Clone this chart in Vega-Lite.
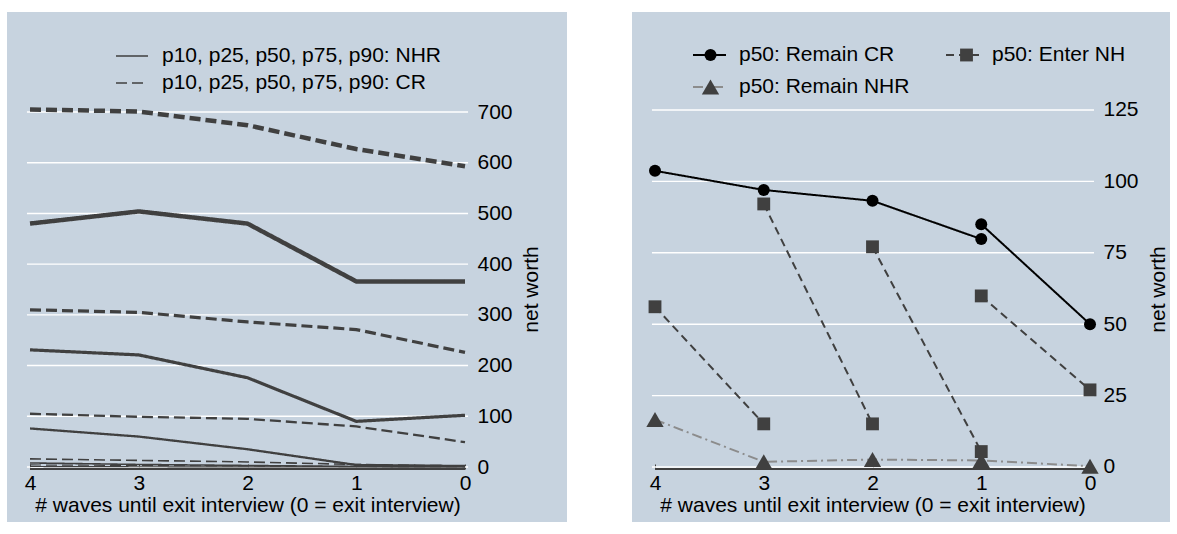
{
  "$schema": "https://vega.github.io/schema/vega-lite/v6.json",
  "padding": {"left": 7, "top": 12, "right": 0, "bottom": 0},
  "background": "#ffffff",
  "spacing": 65,
  "bounds": "flush",
  "resolve": {"scale": {"strokeDash": "independent", "strokeWidth": "independent", "color": "independent", "shape": "independent", "fill": "independent", "size": "independent", "x": "independent", "y": "independent"}},
  "config": {
    "font": "Liberation Sans",
    "view": {"fill": "#c7d3df", "stroke": null},
    "axis": {"labelFont": "Liberation Sans", "titleFont": "Liberation Sans", "labelFontSize": 21, "titleFontSize": 21, "titleFontWeight": "normal", "labelColor": "#000000", "titleColor": "#000000", "grid": false},
    "legend": {"labelFont": "Liberation Sans", "labelFontSize": 21, "labelColor": "#000000", "padding": 0, "labelLimit": 0}
  },
  "hconcat": [
    {
      "width": 560,
      "height": 510,
      "layer": [
        {
          "data": {"values": [{"g": 0}, {"g": 100}, {"g": 200}, {"g": 300}, {"g": 400}, {"g": 500}, {"g": 600}, {"g": 700}]},
          "mark": {"type": "rule", "color": "#ffffff", "strokeWidth": 1.4},
          "encoding": {
            "y": {"field": "g", "type": "quantitative", "scale": {"domain": [-108.45, 897.2], "nice": false, "zero": false},
              "axis": {"orient": "right", "offset": -99, "values": [0, 100, 200, 300, 400, 500, 600, 700], "domain": false, "ticks": false, "labelPadding": 9, "title": "net worth", "titleAngle": 270, "titleX": 63, "titleY": 277, "titleAlign": "center", "titleBaseline": "middle"}},
            "x": {"datum": 4.028, "type": "quantitative", "scale": {"domain": [4.2115, -0.9379], "nice": false, "zero": false},
              "axis": {"orient": "bottom", "offset": -53, "values": [0, 1, 2, 3, 4], "format": "d", "domain": false, "ticks": true, "tickSize": -5, "tickColor": "#404040", "tickWidth": 1, "labelPadding": 8, "labelFlush": false, "title": "# waves until exit interview (0 = exit interview)", "titleX": 240.5, "titlePadding": 1}},
            "x2": {"datum": -0.028}
          }
        },
        {
          "data": {"values": [{"g": 0}]},
          "mark": {"type": "rule", "color": "#404040", "strokeWidth": 2, "yOffset": 2},
          "encoding": {
            "y": {"field": "g", "type": "quantitative"},
            "x": {"datum": 4, "type": "quantitative"},
            "x2": {"datum": 0}
          }
        },
        {
          "data": {"values": [
            {"x": 4, "v": 705, "t": "CR", "p": "p90"}, {"x": 3, "v": 701, "t": "CR", "p": "p90"}, {"x": 2, "v": 674, "t": "CR", "p": "p90"}, {"x": 1, "v": 627, "t": "CR", "p": "p90"}, {"x": 0, "v": 593, "t": "CR", "p": "p90"},
            {"x": 4, "v": 480, "t": "NHR", "p": "p90"}, {"x": 3, "v": 504, "t": "NHR", "p": "p90"}, {"x": 2, "v": 480, "t": "NHR", "p": "p90"}, {"x": 1, "v": 366, "t": "NHR", "p": "p90"}, {"x": 0, "v": 366, "t": "NHR", "p": "p90"},
            {"x": 4, "v": 310, "t": "CR", "p": "p75"}, {"x": 3, "v": 305, "t": "CR", "p": "p75"}, {"x": 2, "v": 286, "t": "CR", "p": "p75"}, {"x": 1, "v": 271, "t": "CR", "p": "p75"}, {"x": 0, "v": 226, "t": "CR", "p": "p75"},
            {"x": 4, "v": 231, "t": "NHR", "p": "p75"}, {"x": 3, "v": 221, "t": "NHR", "p": "p75"}, {"x": 2, "v": 176, "t": "NHR", "p": "p75"}, {"x": 1, "v": 90, "t": "NHR", "p": "p75"}, {"x": 0, "v": 102, "t": "NHR", "p": "p75"},
            {"x": 4, "v": 105, "t": "CR", "p": "p50"}, {"x": 3, "v": 99, "t": "CR", "p": "p50"}, {"x": 2, "v": 95, "t": "CR", "p": "p50"}, {"x": 1, "v": 80, "t": "CR", "p": "p50"}, {"x": 0, "v": 49, "t": "CR", "p": "p50"},
            {"x": 4, "v": 76, "t": "NHR", "p": "p50"}, {"x": 3, "v": 60, "t": "NHR", "p": "p50"}, {"x": 2, "v": 35, "t": "NHR", "p": "p50"}, {"x": 1, "v": 4, "t": "NHR", "p": "p50"}, {"x": 0, "v": 2, "t": "NHR", "p": "p50"},
            {"x": 4, "v": 16, "t": "CR", "p": "p25"}, {"x": 3, "v": 13, "t": "CR", "p": "p25"}, {"x": 2, "v": 10, "t": "CR", "p": "p25"}, {"x": 1, "v": 5, "t": "CR", "p": "p25"}, {"x": 0, "v": 2, "t": "CR", "p": "p25"},
            {"x": 4, "v": 8, "t": "NHR", "p": "p25"}, {"x": 3, "v": 5, "t": "NHR", "p": "p25"}, {"x": 2, "v": 3, "t": "NHR", "p": "p25"}, {"x": 1, "v": 1, "t": "NHR", "p": "p25"}, {"x": 0, "v": 0.5, "t": "NHR", "p": "p25"},
            {"x": 4, "v": 4, "t": "CR", "p": "p10"}, {"x": 3, "v": 3, "t": "CR", "p": "p10"}, {"x": 2, "v": 2, "t": "CR", "p": "p10"}, {"x": 1, "v": 1, "t": "CR", "p": "p10"}, {"x": 0, "v": 0.5, "t": "CR", "p": "p10"},
            {"x": 4, "v": 1, "t": "NHR", "p": "p10"}, {"x": 3, "v": 0.5, "t": "NHR", "p": "p10"}, {"x": 2, "v": 0.3, "t": "NHR", "p": "p10"}, {"x": 1, "v": 0, "t": "NHR", "p": "p10"}, {"x": 0, "v": 0, "t": "NHR", "p": "p10"}
          ]},
          "mark": {"type": "line", "color": "#404040"},
          "encoding": {
            "x": {"field": "x", "type": "quantitative"},
            "y": {"field": "v", "type": "quantitative"},
            "strokeDash": {"field": "t", "type": "nominal", "scale": {"domain": ["NHR", "CR"], "range": [[1, 0], [11, 5]]},
              "legend": {"orient": "none", "legendX": 108, "legendY": 27, "title": null, "symbolType": "stroke", "symbolSize": 1024, "symbolStrokeColor": "#404040", "symbolStrokeWidth": 1.3, "labelOffset": 13, "rowPadding": -5, "labelExpr": "'p10, p25, p50, p75, p90: ' + datum.label"}},
            "strokeWidth": {"field": "p", "type": "ordinal", "scale": {"type": "ordinal", "domain": ["p10", "p25", "p50", "p75", "p90"], "range": [1.2, 1.6, 2.3, 3.2, 4.5]}, "legend": null}
          }
        }
      ]
    },
    {
      "width": 538,
      "height": 510,
      "resolve": {"legend": {"color": "independent", "shape": "independent", "fill": "independent", "size": "independent", "strokeDash": "independent"}},
      "layer": [
        {
          "data": {"values": [{"g": 0}, {"g": 25}, {"g": 50}, {"g": 75}, {"g": 100}, {"g": 125}]},
          "mark": {"type": "rule", "color": "#ffffff", "strokeWidth": 1.4},
          "encoding": {
            "y": {"field": "g", "type": "quantitative", "scale": {"domain": [-19.26, 159.31], "nice": false, "zero": false},
              "axis": {"orient": "right", "offset": -76, "values": [0, 25, 50, 75, 100, 125], "domain": false, "ticks": false, "labelPadding": 9, "title": "net worth", "titleAngle": 270, "titleX": 64, "titleY": 277, "titleAlign": "center", "titleBaseline": "middle"}},
            "x": {"datum": 4.028, "type": "quantitative", "scale": {"domain": [4.2115, -0.7356], "nice": false, "zero": false},
              "axis": {"orient": "bottom", "offset": -53, "values": [0, 1, 2, 3, 4], "format": "d", "domain": false, "ticks": true, "tickSize": -5, "tickColor": "#404040", "tickWidth": 1, "labelPadding": 8, "labelFlush": false, "title": "# waves until exit interview (0 = exit interview)", "titleX": 240.5, "titlePadding": 1}},
            "x2": {"datum": -0.037}
          }
        },
        {
          "data": {"values": [{"g": 0}]},
          "mark": {"type": "rule", "color": "#404040", "strokeWidth": 2, "yOffset": 2},
          "encoding": {
            "y": {"field": "g", "type": "quantitative"},
            "x": {"datum": 4, "type": "quantitative"},
            "x2": {"datum": 0}
          }
        },
        {
          "data": {"name": "med"},
          "mark": {"type": "line", "strokeWidth": 2},
          "encoding": {
            "x": {"field": "x", "type": "quantitative"},
            "y": {"field": "v", "type": "quantitative"},
            "color": {"field": "s", "type": "nominal", "scale": {"domain": ["CR", "NHR", "NH"], "range": ["#000000", "#8c8c8c", "#404040"]},
              "legend": {"orient": "none", "legendX": 60, "legendY": 27, "title": null, "columns": 2, "columnPadding": 35, "symbolType": "stroke", "symbolSize": 1089, "symbolStrokeWidth": 2, "labelOffset": 12, "rowPadding": -5, "clipHeight": 32, "labelExpr": "datum.label == 'CR' ? 'p50: Remain CR' : datum.label == 'NH' ? 'p50: Enter NH' : 'p50: Remain NHR'"}},
            "strokeDash": {"field": "s", "type": "nominal", "scale": {"domain": ["CR", "NHR", "NH"], "range": [[1, 0], [10, 4, 2, 4], [8, 5]]}, "legend": null},
            "detail": {"field": "seg", "type": "nominal"}
          }
        },
        {
          "data": {"name": "med"},
          "mark": {"type": "point", "filled": true, "opacity": 1, "strokeWidth": 0},
          "encoding": {
            "x": {"field": "x", "type": "quantitative"},
            "y": {"field": "v", "type": "quantitative"},
            "shape": {"field": "s", "type": "nominal", "scale": {"domain": ["CR", "NHR", "NH"], "range": ["circle", "triangle-up", "square"]},
              "legend": {"orient": "none", "legendX": 68, "legendY": 27, "title": null, "columns": 2, "columnPadding": 235, "labelOffset": 0, "rowPadding": -5, "clipHeight": 32, "labelExpr": "''"}},
            "fill": {"field": "s", "type": "nominal", "scale": {"domain": ["CR", "NHR", "NH"], "range": ["#000000", "#404040", "#404040"]}},
            "size": {"field": "s", "type": "ordinal", "scale": {"type": "ordinal", "domain": ["CR", "NHR", "NH"], "range": [144, 300, 165]}}
          }
        }
      ]
    }
  ],
  "datasets": {
    "med": [
      {"x": 4, "v": 103.7, "s": "CR", "seg": "a"}, {"x": 3, "v": 97.0, "s": "CR", "seg": "a"}, {"x": 2, "v": 93.2, "s": "CR", "seg": "a"}, {"x": 1, "v": 79.8, "s": "CR", "seg": "a"},
      {"x": 1, "v": 85.0, "s": "CR", "seg": "b"}, {"x": 0, "v": 50.0, "s": "CR", "seg": "b"},
      {"x": 4, "v": 56.1, "s": "NH", "seg": "c"}, {"x": 3, "v": 15.1, "s": "NH", "seg": "c"},
      {"x": 3, "v": 92.1, "s": "NH", "seg": "d"}, {"x": 2, "v": 15.1, "s": "NH", "seg": "d"},
      {"x": 2, "v": 77.1, "s": "NH", "seg": "e"}, {"x": 1, "v": 5.4, "s": "NH", "seg": "e"},
      {"x": 1, "v": 59.9, "s": "NH", "seg": "f"}, {"x": 0, "v": 27.0, "s": "NH", "seg": "f"},
      {"x": 4, "v": 16.6, "s": "NHR", "seg": "g"}, {"x": 3, "v": 1.8, "s": "NHR", "seg": "g"}, {"x": 2, "v": 2.6, "s": "NHR", "seg": "g"}, {"x": 1, "v": 2.3, "s": "NHR", "seg": "g"}, {"x": 0, "v": 0.3, "s": "NHR", "seg": "g"}
    ]
  }
}
